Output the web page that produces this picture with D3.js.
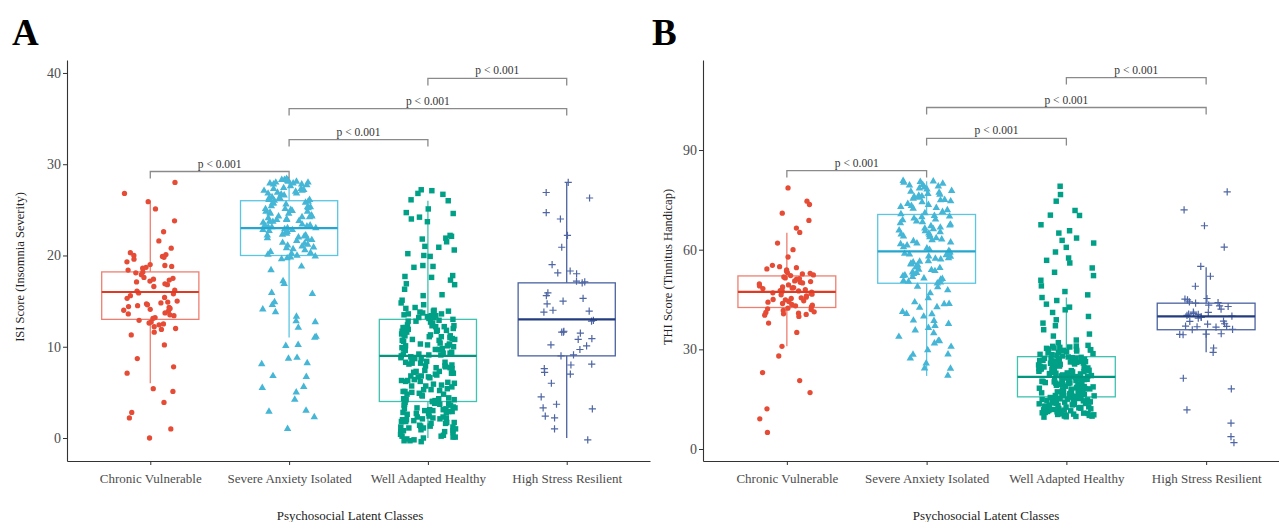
<!DOCTYPE html>
<html>
<head>
<meta charset="utf-8">
<script src="https://cdn.jsdelivr.net/npm/d3@7"></script>
<style>
body { margin: 0; background: #fff; }
svg { display: block; font-family: "Liberation Serif", "Times New Roman", serif; }
</style>
</head>
<body>
<div class="chart"></div>
<script>
const WIDTH = 1279;
const HEIGHT = 522;

var categories = ["Chronic Vulnerable", "Severe Anxiety Isolated", "Well Adapted Healthy", "High Stress Resilient"];

// ISI scores (panel A)
var isiChronic = [28.0, 26.8, 25.9, 25.1, 23.8, 22.6, 21.6, 20.8, 20.3, 20.1, 19.9, 19.6, 20.0, 19.8, 19.3, 19.0, 18.8, 18.6, 18.7, 18.4,
  18.9, 18.2, 17.9, 18.1, 17.6, 17.4, 17.1, 16.8, 17.3, 17.5, 17.2, 16.6, 16.9, 16.2, 15.9, 15.8, 16.1, 15.6, 15.4, 15.3,
  15.0, 14.9, 14.7, 14.6, 14.4, 14.8, 14.3, 14.5, 14.1, 14.2, 13.9, 13.7, 14.0, 13.6, 13.4, 13.5, 13.2, 12.9, 13.1, 12.7,
  12.5, 12.4, 12.6, 12.2, 12.0, 11.9, 11.6, 11.3, 10.2, 8.7, 7.8, 7.1, 5.4, 5.1, 3.9, 2.8, 2.2, 1.0, 0.0];
var isiSevere = [28.3, 27.8, 28.1, 28.2, 27.7, 28.4, 28.0, 27.9, 28.3, 27.6, 28.2, 28.1, 27.8, 28.3, 27.9, 28.0,
  27.3, 26.8, 27.1, 26.7, 27.4, 26.9, 27.2, 26.6, 27.0, 27.3, 26.8, 27.1,
  26.2, 25.7, 26.4, 25.9, 26.1, 25.6, 26.3, 25.8, 26.0, 26.3, 25.7, 26.1,
  25.3, 24.8, 25.1, 24.6, 25.4, 24.9, 25.2, 24.7, 25.0, 25.3, 24.8, 25.1, 24.6,
  24.2, 23.7, 24.4, 23.9, 24.1, 23.6, 24.3, 23.8, 24.0, 24.2, 23.7, 24.3, 23.9,
  23.1, 22.7, 23.3, 22.8, 23.2, 22.6, 23.0, 23.4, 22.9, 23.1, 22.7, 23.3, 22.8, 23.0,
  22.2, 21.7, 22.3, 21.9, 22.1, 21.6, 22.4, 21.8, 22.0, 22.2,
  21.3, 20.8, 21.1, 20.7, 21.4, 20.9, 21.2, 20.6, 21.0,
  20.2, 19.7, 20.3, 19.8, 20.1, 19.6, 20.4, 19.9, 20.0,
  18.4, 17.2, 15.8, 15.9, 14.9, 14.6, 14.1, 13.8, 12.7, 12.8, 12.1, 11.0, 11.1, 10.2, 10.1, 8.7,
  8.8, 8.2, 8.1, 6.7, 6.8, 5.6, 5.5, 5.0, 4.2, 2.9, 3.0, 2.3, 1.0, 18.8, 16.9, 13.3];
var isiWell = [27.2, 27.1, 26.8, 26.7, 26.1, 26.0, 25.1, 24.7, 24.6, 24.2, 24.0, 23.7, 22.2, 22.1, 21.9, 21.8, 21.5, 21.0, 20.9, 20.6,
  20.2, 20.0, 19.9, 18.8, 18.9, 18.7, 17.7, 17.6, 17.8, 17.3, 16.9, 16.8, 16.3, 15.7, 15.6, 15.1, 14.8, 14.6, 14.3, 14.2,
  13.4, 12.8, 13.2, 12.7, 13.3, 12.9, 13.1, 12.6, 13.0, 13.4, 12.8, 13.2, 13.9, 14.0, 13.7, 13.8, 13.6, 13.5, 13.9, 13.6,
  12.2, 11.7, 12.3, 11.8, 12.1, 11.6, 12.4, 11.9, 12.0, 12.2, 11.7, 12.3, 11.8, 12.1,
  11.3, 10.7, 11.1, 10.8, 11.4, 10.9, 11.2, 10.6, 11.0, 11.3, 10.8, 11.1, 10.7, 11.2,
  10.2, 9.7, 10.3, 9.8, 10.1, 9.6, 10.4, 9.9, 10.0, 10.2, 9.7, 10.3, 9.8, 10.1,
  9.1, 8.7, 9.3, 8.8, 9.2, 8.6, 9.0, 9.4, 8.9, 9.1, 8.7, 9.3, 8.8, 9.2,
  8.2, 7.7, 8.3, 7.8, 8.1, 7.6, 8.4, 7.9, 8.0, 8.2, 7.7, 8.3, 7.9,
  7.3, 6.7, 7.1, 6.8, 7.4, 6.9, 7.2, 6.6, 7.0, 7.3, 6.8, 7.1, 6.7,
  6.2, 5.7, 6.3, 5.8, 6.1, 5.6, 6.4, 5.9, 6.0, 6.2, 5.7, 6.3,
  5.3, 4.7, 5.1, 4.8, 5.4, 4.9, 5.2, 4.6, 5.0, 5.3, 4.8, 5.1,
  4.2, 3.7, 4.3, 3.8, 4.1, 3.6, 4.4, 3.9, 4.0, 4.2, 3.7, 4.3, 3.8, 4.1, 3.6, 4.0,
  3.3, 2.7, 3.1, 2.8, 3.4, 2.9, 3.2, 2.6, 3.0, 3.3, 2.8, 3.1, 2.7, 3.2, 2.9, 3.0,
  2.2, 1.7, 2.3, 1.8, 2.1, 1.6, 2.4, 1.9, 2.0, 2.2, 1.7, 2.3, 1.8, 2.1, 1.6, 2.0,
  1.3, 0.7, 1.1, 0.8, 1.4, 0.9, 1.2, 0.6, 1.0, 1.3, 0.8, 1.1, 0.7, 1.2,
  0.2, -0.3, 0.3, -0.2, 0.1, -0.4, 0.4, -0.1, 0.0, 0.2, -0.3, 0.1];
var isiHigh = [28.0, 26.9, 26.3, 24.7, 24.0, 22.2, 20.9, 19.0, 18.3, 18.0, 18.1, 17.1, 17.0, 17.2, 15.9, 15.6, 15.3, 15.0, 14.7, 13.9,
  14.0, 13.8, 12.8, 12.9, 11.6, 11.5, 11.7, 11.6, 10.8, 10.9, 10.1, 10.2, 9.7, 9.1, 9.0, 8.0, 8.1, 7.6, 7.2, 7.0,
  6.0, 4.5, 3.7, 3.2, 3.3, 2.4, 2.2, 1.0, -0.2];

// box statistics, panel A
var isiLower = [6, 11, 0, 0];
var isiQ1 = [13, 20, 4, 9];
var isiMedian = [16, 23, 9, 13];
var isiQ3 = [18.2, 26, 13, 17];
var isiUpper = [26, 28.3, 26, 28];

// THI scores (panel B)
var thiChronic = [78.6, 74.6, 73.6, 71.0, 68.8, 66.5, 65.2, 62.0, 60.0, 57.8, 54.9, 55.3, 54.6, 53.9, 54.2, 53.6,
  53.1, 52.7, 52.4, 52.9, 51.8, 52.2, 51.5, 51.1, 50.6, 51.3, 50.2, 49.7, 50.0, 49.4, 48.8, 49.1, 48.5, 48.0, 48.3, 47.6,
  47.9, 47.2, 47.4, 46.8, 47.0, 46.4, 46.1, 45.7, 46.6, 45.3, 45.0, 44.6, 45.5, 44.2, 43.8, 44.4, 43.5, 43.1, 42.8, 43.3,
  42.4, 42.0, 41.7, 42.2, 41.3, 40.9, 41.1, 40.5, 40.7, 40.3, 47.7, 48.6, 50.4, 44.9,
  39.9, 37.9, 35.1, 30.9, 28.0, 23.0, 20.6, 17.0, 12.1, 9.1, 5.0];
var thiSevere = [80.6, 80.4, 79.9, 80.2, 79.5, 80.7, 79.1, 78.8, 79.4, 78.2, 77.7, 78.5, 77.2, 76.8, 77.5, 76.3, 75.9, 76.6, 75.4, 75.0,
  74.6, 75.7, 74.3, 74.9, 76.1, 73.8, 73.2, 72.9, 73.5, 72.4, 71.9, 72.6, 71.4, 71.0, 70.7,
  70.2, 69.8, 69.4, 70.0, 68.9, 68.5, 69.1, 68.0, 67.6, 68.3, 67.1, 66.7, 67.3, 66.2, 65.8, 66.4, 65.3, 64.9, 65.6, 64.4,
  64.0, 64.6, 63.5, 63.1, 63.8, 62.6, 62.2, 62.9, 61.7, 61.3, 61.9, 60.8, 60.4, 60.0, 59.7,
  59.2, 58.8, 58.4, 59.0, 58.0, 57.5, 57.9, 57.1, 56.6, 57.3, 56.2, 55.8, 56.4, 55.3, 54.9, 55.6, 54.5, 54.0, 54.7, 53.6,
  53.2, 53.9, 52.7, 52.3, 53.0, 51.8, 51.4, 52.1, 51.0, 50.6, 51.2, 50.2, 49.9, 50.4, 58.6,
  48.9, 48.7, 45.4, 43.7, 43.6, 42.7, 42.6, 40.7, 40.6, 39.9, 38.7, 38.6, 37.7, 37.1, 35.7, 34.9, 33.8, 32.6, 32.5, 31.8,
  30.8, 29.8, 28.5, 28.4, 27.3, 25.8, 24.3, 24.2, 22.1, 46.9, 44.2, 41.3, 36.5, 47.8];
var thiWell = [79.1, 76.6, 74.6, 71.8, 70.4, 70.3, 67.5, 65.7, 65.0, 63.5, 62.8, 62.0, 60.7, 59.3, 57.5, 56.8, 56.0, 54.5, 53.2, 52.2,
  50.8, 49.1, 47.4, 46.4, 45.6, 44.7, 43.6, 42.7, 41.9, 41.1, 39.9, 38.9, 37.9, 37.1, 35.9, 34.6, 34.0, 32.8, 32.0,
  31.2, 30.6, 30.9, 30.1, 30.4, 29.7, 31.0, 29.3, 30.3, 28.9, 29.8, 28.5, 30.7, 29.1, 28.2, 29.5, 28.7, 30.0, 28.0, 29.9, 28.4,
  27.6, 27.2, 26.9, 27.4, 26.5, 26.1, 26.7, 25.8, 25.4, 26.3, 25.0, 24.7, 25.6, 24.3, 24.0, 24.9, 23.6, 23.2, 24.5, 22.9,
  22.5, 23.8, 22.1, 21.8, 23.0, 27.5, 26.0, 24.2, 22.7, 21.7, 27.0, 26.6, 25.2, 23.4, 22.3, 27.7, 25.9, 24.6, 23.1, 21.9,
  26.4, 25.5, 24.1, 22.8, 22.0, 27.3, 26.2, 24.8, 23.7, 22.4, 27.1, 25.1, 23.9, 22.6, 21.6, 26.8, 25.3, 24.4, 23.3, 22.2,
  21.4, 21.0, 20.7, 21.2, 20.3, 19.9, 20.5, 19.6, 19.2, 20.1, 18.8, 18.5, 19.4, 18.1, 17.8, 18.7, 17.4, 17.0, 18.3, 16.7,
  16.3, 17.6, 16.0, 15.7, 16.9, 21.5, 20.0, 18.2, 16.6, 15.8, 21.1, 20.6, 19.3, 17.5, 16.2, 20.9, 19.8, 18.6, 17.2, 15.9,
  20.4, 19.5, 18.0, 16.8, 16.1, 21.3, 20.2, 18.9, 17.7, 16.4, 20.8, 19.1, 17.9, 16.5, 15.6, 21.0, 19.7, 18.4, 17.3, 16.0,
  15.4, 15.0, 14.7, 15.2, 14.3, 13.9, 14.5, 13.6, 13.2, 14.1, 12.8, 12.5, 13.4, 12.1, 11.8, 12.7, 11.4, 11.0, 12.3, 10.7,
  10.3, 11.6, 10.0, 9.7, 10.9, 15.5, 14.0, 12.2, 10.6, 9.8, 15.1, 14.6, 13.3, 11.5, 10.2, 14.9, 13.8, 12.6, 11.2, 9.9,
  14.4, 13.5, 12.0, 10.8, 10.1, 15.3, 14.2, 12.9, 11.7, 10.4, 14.8, 13.1, 11.9, 10.5, 9.6, 15.0, 13.7, 12.4, 11.3, 10.0];
var thiHigh = [77.4, 72.0, 67.2, 60.8, 55.0, 52.0, 49.0, 45.1, 45.3, 44.9, 44.1, 44.3, 43.9, 43.1, 43.3, 42.9, 42.1, 41.1, 41.2, 40.8,
  40.5, 40.2, 40.0, 39.8, 39.6, 39.4, 40.6, 38.4, 38.5, 37.7, 37.6, 36.9, 37.0, 36.8, 36.7, 35.9, 36.0, 34.6, 34.5, 34.7,
  34.4, 30.4, 29.1, 21.3, 18.1, 11.8, 7.8, 3.7, 1.9];

// box statistics, panel B
var thiLower = [30.9, 22.0, 10.0, 29.1];
var thiQ1 = [42.6, 49.9, 15.7, 35.9];
var thiMedian = [47.3, 59.5, 21.7, 39.9];
var thiQ3 = [52.1, 70.6, 27.8, 43.9];
var thiUpper = [65.1, 80.6, 45.6, 54.7];

// pairwise comparisons
var pairs = [[0, 1], [1, 2], [1, 3], [2, 3]];
var pLabels = ["p < 0.001", "p < 0.001", "p < 0.001", "p < 0.001"];
var isiBracketY = [29.2, 32.7, 36.1, 39.4];
var thiBracketY = [83.8, 93.5, 102.8, 111.8];

var isiTicks = [0, 10, 20, 30, 40];
var thiTicks = [0, 30, 60, 90];

// styles
var pointColor = ["#E64B35", "#45B6D6", "#00A087", "#4F66A3"];
var boxColor = ["#EE7F70", "#5CC6E2", "#3FC2AF", "#4A62A0"];
var medianColor = ["#DF3A24", "#25A6CE", "#00977E", "#223C7E"];
var symbolTypes = [d3.symbolCircle, d3.symbolTriangle, d3.symbolSquare, null];
var symbolSizes = [22, 24, 30, 0];

var _svg = d3.select('.chart').append('svg')
    .attr('width', WIDTH)
    .attr('height', HEIGHT);

var jit = function (i, g, p) {
    var s = Math.sin(i * 91.713 + g * 47.31 + p * 13.17 + 1.7) * 43758.5453;
    return s - Math.floor(s);
};

var generatePanel = function (p) {
    var x = d3.scalePoint().domain(d3.range(categories.length))
        .range([p.left, p.right]).padding(0.6);
    var step = x.step();
    var y = d3.scaleLinear().domain(p.yDomain).range([p.bottom, p.top]);

    var g = _svg.append("g");

    // panel letter
    g.append("text")
        .attr("x", p.letterX).attr("y", 45)
        .style("font-size", "37px").style("font-weight", "bold").style("fill", "#000")
        .text(p.letter);

    // axes
    var yAxis = g.append("g").attr("transform", "translate(" + p.left + ",0)")
        .call(d3.axisLeft(y).tickValues(p.ticks).tickSize(4).tickSizeOuter(0).tickPadding(2));
    var xAxis = g.append("g").attr("transform", "translate(0," + p.bottom + ")")
        .call(d3.axisBottom(x).tickSize(4).tickSizeOuter(0).tickPadding(9)
            .tickFormat(function (d) { return categories[d]; }));
    [yAxis, xAxis].forEach(function (a) {
        a.select(".domain").attr("stroke", "#333").attr("stroke-width", 1.1);
        a.selectAll(".tick line").attr("stroke", "#333");
        a.selectAll(".tick text").style("font-size", "13px").style("fill", "#4D4D4D")
            .style("font-family", "'Liberation Serif', serif");
    });
    yAxis.selectAll(".tick text").style("font-size", "14px");

    g.append("text")
        .attr("transform", "translate(" + p.yTitleX + ",267) rotate(-90)")
        .attr("text-anchor", "middle")
        .style("font-size", "12.5px").style("fill", "#222")
        .text(p.yTitle);
    g.append("text")
        .attr("x", p.xTitleX).attr("y", 520)
        .attr("text-anchor", "middle")
        .style("font-size", "13px").style("fill", "#222")
        .text("Psychosocial Latent Classes");

    var bw = step * 0.7;

    // boxes and whiskers
    categories.forEach(function (c, k) {
        var cx = x(k);
        g.append("line").attr("x1", cx).attr("x2", cx)
            .attr("y1", y(p.q3[k])).attr("y2", y(p.upper[k]))
            .attr("stroke", boxColor[k]).attr("stroke-width", 1.3);
        g.append("line").attr("x1", cx).attr("x2", cx)
            .attr("y1", y(p.q1[k])).attr("y2", y(p.lower[k]))
            .attr("stroke", boxColor[k]).attr("stroke-width", 1.3);
        g.append("rect")
            .attr("x", cx - bw / 2).attr("width", bw)
            .attr("y", y(p.q3[k])).attr("height", y(p.q1[k]) - y(p.q3[k]))
            .attr("fill", "none").attr("stroke", boxColor[k]).attr("stroke-width", 1.3);
    });

    // jittered points
    p.groups.forEach(function (vals, k) {
        var pts = g.append("g").selectAll("path").data(vals).enter().append("path")
            .attr("transform", function (d, i) {
                var dx = (jit(i, k, p.seed) - 0.5) * 0.4 * step;
                return "translate(" + (x(k) + dx) + "," + y(d) + ")";
            });
        if (symbolTypes[k]) {
            pts.attr("d", d3.symbol().type(symbolTypes[k]).size(symbolSizes[k]))
                .attr("fill", pointColor[k]);
        } else {
            pts.attr("d", "M-3.6,0H3.6M0,-3.6V3.6")
                .attr("fill", "none").attr("stroke", pointColor[k]).attr("stroke-width", 1.2);
        }
    });

    // medians
    categories.forEach(function (c, k) {
        g.append("line")
            .attr("x1", x(k) - bw / 2).attr("x2", x(k) + bw / 2)
            .attr("y1", y(p.median[k])).attr("y2", y(p.median[k]))
            .attr("stroke", medianColor[k]).attr("stroke-width", 2.2);
    });

    // significance brackets
    pairs.forEach(function (pr, j) {
        var x1 = x(pr[0]), x2 = x(pr[1]), yy = y(p.bracketY[j]);
        g.append("path")
            .attr("d", "M" + x1 + "," + (yy + 7) + "V" + yy + "H" + x2 + "V" + (yy + 7))
            .attr("fill", "none").attr("stroke", "#8A8A8A").attr("stroke-width", 1.3);
        g.append("text")
            .attr("x", (x1 + x2) / 2).attr("y", yy - 4)
            .attr("text-anchor", "middle")
            .style("font-size", "11.5px").style("fill", "#333")
            .text(pLabels[j]);
    });
};

generatePanel({
    letter: "A", letterX: 12, left: 67, right: 650, top: 60, bottom: 461,
    yDomain: [-2.52, 41.42], ticks: isiTicks, yTitle: "ISI Score (Insomnia Severity)",
    yTitleX: 24, xTitleX: 350, seed: 1,
    groups: [isiChronic, isiSevere, isiWell, isiHigh],
    lower: isiLower, q1: isiQ1, median: isiMedian, q3: isiQ3, upper: isiUpper,
    bracketY: isiBracketY
});

generatePanel({
    letter: "B", letterX: 652, left: 703, right: 1290, top: 60, bottom: 461,
    yDomain: [-3.61, 117.1], ticks: thiTicks, yTitle: "THI Score (Tinnitus Handicap)",
    yTitleX: 672, xTitleX: 986, seed: 2,
    groups: [thiChronic, thiSevere, thiWell, thiHigh],
    lower: thiLower, q1: thiQ1, median: thiMedian, q3: thiQ3, upper: thiUpper,
    bracketY: thiBracketY
});
</script>
</body>
</html>
